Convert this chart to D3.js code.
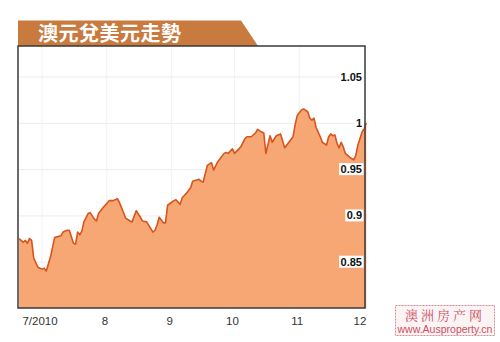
<!DOCTYPE html>
<html><head><meta charset="utf-8">
<script src="https://cdn.jsdelivr.net/npm/d3@7"></script>
<style>body{margin:0;background:#fff}svg{display:block}</style>
</head><body>
<svg id="c" width="500" height="342"></svg>
<script>
const title = "澳元兌美元走勢";
const dates = ["2010-06-21","2010-06-23","2010-06-24","2010-06-25","2010-06-26","2010-06-27","2010-06-28","2010-06-30","2010-07-01","2010-07-02","2010-07-03","2010-07-04","2010-07-06","2010-07-08","2010-07-11","2010-07-12","2010-07-14","2010-07-15","2010-07-17","2010-07-18","2010-07-19","2010-07-20","2010-07-21","2010-07-22","2010-07-24","2010-07-25","2010-07-27","2010-07-28","2010-07-29","2010-07-31","2010-08-02","2010-08-03","2010-08-05","2010-08-07","2010-08-08","2010-08-11","2010-08-13","2010-08-14","2010-08-16","2010-08-18","2010-08-19","2010-08-21","2010-08-24","2010-08-25","2010-08-26","2010-08-27","2010-08-29","2010-08-30","2010-08-31","2010-09-03","2010-09-04","2010-09-06","2010-09-07","2010-09-09","2010-09-11","2010-09-12","2010-09-15","2010-09-16","2010-09-17","2010-09-19","2010-09-21","2010-09-22","2010-09-24","2010-09-25","2010-09-27","2010-09-28","2010-09-29","2010-10-01","2010-10-02","2010-10-05","2010-10-07","2010-10-08","2010-10-10","2010-10-12","2010-10-13","2010-10-15","2010-10-16","2010-10-17","2010-10-19","2010-10-20","2010-10-22","2010-10-24","2010-10-26","2010-10-28","2010-10-30","2010-10-31","2010-11-01","2010-11-03","2010-11-04","2010-11-06","2010-11-07","2010-11-08","2010-11-09","2010-11-10","2010-11-11","2010-11-12","2010-11-13","2010-11-15","2010-11-16","2010-11-17","2010-11-18","2010-11-19","2010-11-20","2010-11-21","2010-11-22","2010-11-23","2010-11-24","2010-11-26","2010-11-28","2010-11-29","2010-11-30","2010-12-02","2010-12-03","2010-12-04"];
const rates = [0.875,0.871,0.873,0.870,0.875,0.873,0.854,0.844,0.843,0.842,0.843,0.840,0.855,0.876,0.878,0.882,0.884,0.884,0.870,0.869,0.882,0.879,0.883,0.893,0.902,0.903,0.896,0.894,0.902,0.908,0.913,0.916,0.916,0.918,0.914,0.897,0.894,0.893,0.905,0.898,0.894,0.893,0.882,0.884,0.890,0.898,0.892,0.892,0.911,0.916,0.917,0.912,0.919,0.924,0.930,0.937,0.939,0.937,0.936,0.954,0.957,0.949,0.958,0.961,0.967,0.968,0.967,0.972,0.967,0.974,0.983,0.985,0.985,0.989,0.993,0.990,0.989,0.967,0.986,0.979,0.986,0.988,0.973,0.979,0.985,0.998,1.008,1.014,1.015,1.012,1.005,1.003,1.005,0.995,0.990,0.985,0.979,0.976,0.985,0.988,0.986,0.987,0.978,0.973,0.979,0.974,0.967,0.963,0.960,0.965,0.976,0.990,0.994,1.000];
const yTicks = [0.85, 0.9, 0.95, 1, 1.05];
const yTickLabels = ["0.85","0.9","0.95","1","1.05"];
const xTicks = ["2010-07-01","2010-08-01","2010-09-01","2010-10-01","2010-11-01","2010-12-01"];
const xTickLabels = ["7/2010","8","9","10","11","12"];

const parse = d3.utcParse("%Y-%m-%d");
const data = dates.map((d,i)=>({date:parse(d), v:rates[i]}));
const svg = d3.select("#c");
const L = 18, R = 365, T = 46, B = 308;

const x = d3.scaleUtc().domain([parse("2010-07-01"), parse("2010-12-01")]).range([40, 360]);
const y = d3.scaleLinear().domain([0.8, 1.083]).range([B, T]);

// title banner
svg.append("path")
  .attr("d", `M${L},20.5 L241,20.5 L258,46 L${L},46 Z`)
  .attr("fill", "#c97a3f");
svg.append("text").attr("x", 38).attr("y", 41)
  .attr("font-family", "'Noto Sans CJK TC','Noto Sans CJK SC',sans-serif")
  .attr("font-weight", "bold").attr("font-size", 20).attr("fill", "#fff")
  .attr("letter-spacing", 0.5)
  .text(title);

// gridlines
const g = svg.append("g");
g.selectAll("line.hy").data(yTicks).join("line")
  .attr("x1", L).attr("x2", R).attr("y1", d=>y(d)+0.5).attr("y2", d=>y(d)+0.5)
  .attr("stroke", "#ececec").attr("stroke-width", 1);
g.selectAll("line.vx").data(xTicks.slice(0,5)).join("line")
  .attr("x1", d=>x(parse(d))+2).attr("x2", d=>x(parse(d))+2).attr("y1", T).attr("y2", B)
  .attr("stroke", "#f1f1f1").attr("stroke-width", 1);

// area + line
const area = d3.area().x(d=>x(d.date)).y0(B).y1(d=>y(d.v));
const line = d3.line().x(d=>x(d.date)).y(d=>y(d.v));
svg.append("path").datum(data).attr("d", area).attr("fill", "#f6a774");
svg.append("path").datum(data).attr("d", line).attr("fill", "none")
  .attr("stroke", "#d9531c").attr("stroke-width", 1.6).attr("stroke-linejoin", "round");

// frame
svg.append("path")
  .attr("d", `M${L},${T} L${R},${T} L${R},${B} L${L},${B} Z`)
  .attr("fill", "none").attr("stroke", "#3a3a3a").attr("stroke-width", 1.5);

// y labels with white background
const yl = svg.append("g");
yTicks.forEach((t,i)=>{
  const txt = yl.append("text").attr("x", 362).attr("y", y(t)+4)
    .attr("text-anchor", "end").attr("font-family", "'Liberation Sans',Arial,sans-serif")
    .attr("font-weight", "bold").attr("font-size", 11).attr("fill", "#111")
    .text(yTickLabels[i]);
  const bb = txt.node().getBBox();
  yl.insert("rect", "text").attr("x", bb.x-1.5).attr("y", bb.y).attr("width", bb.width+3).attr("height", bb.height)
    .attr("fill", "#fff");
});

// x labels
svg.selectAll("text.xl").data(xTicks).join("text")
  .attr("x", d=>x(parse(d))).attr("y", 325).attr("text-anchor", "middle")
  .attr("font-family", "'Liberation Sans',Arial,sans-serif").attr("font-size", 11.5).attr("fill", "#333")
  .text((d,i)=>xTickLabels[i]);

// watermark stamp
const wm = svg.append("g");
wm.append("rect").attr("x", 395.5).attr("y", 305.5).attr("width", 99).attr("height", 30)
  .attr("fill", "#fcf3f4").attr("stroke", "#d98a95").attr("stroke-width", 1).attr("stroke-dasharray", "2,1");
wm.append("text").attr("x", 445).attr("y", 320).attr("text-anchor", "middle")
  .attr("font-family", "'Noto Serif CJK SC','Noto Sans CJK SC',serif").attr("font-size", 13)
  .attr("fill", "#c9505f").attr("letter-spacing", 3).text("澳洲房产网");
wm.append("text").attr("x", 445).attr("y", 333).attr("text-anchor", "middle")
  .attr("font-family", "'Liberation Sans',Arial,sans-serif").attr("font-size", 10.5)
  .attr("fill", "#c9505f").text("www.Ausproperty.cn");
</script>
</body></html>
